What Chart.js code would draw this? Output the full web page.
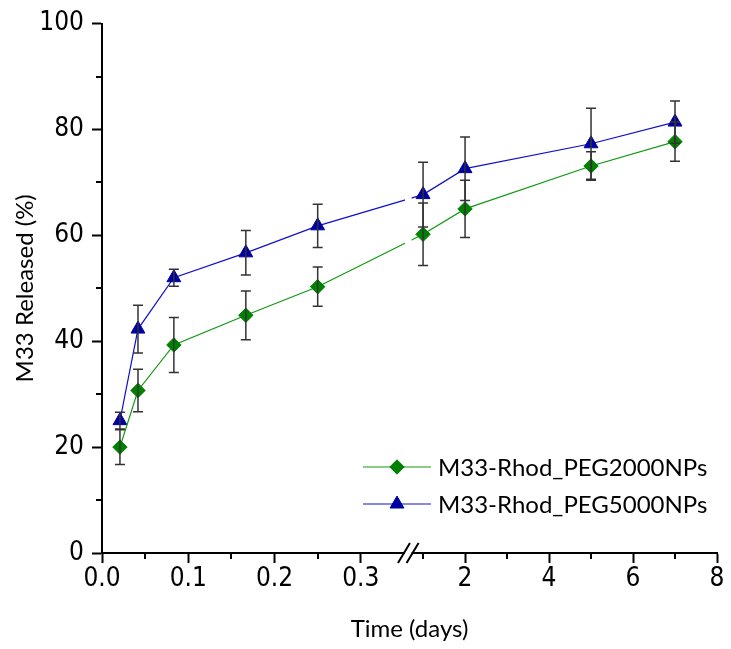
<!DOCTYPE html>
<html>
<head>
<meta charset="utf-8">
<title>M33 release</title>
<script src="https://cdn.jsdelivr.net/npm/chart.js@4.4.1/dist/chart.umd.min.js"></script>
<style>
  html, body { margin: 0; padding: 0; background: #fff; }
  #wrap { width: 731px; height: 649px; }
</style>
</head>
<body>
<div id="wrap"><canvas id="chart" width="731" height="649"></canvas></div>
<script>
// ---- data ----
const timeDays    = [0.0208, 0.0417, 0.0833, 0.1667, 0.25, 1, 2, 5, 7];
const peg2000     = [20.0, 30.7, 39.3, 44.9, 50.3, 60.2, 65.0, 73.1, 77.7];
const peg2000Err  = [3.3, 4.0, 5.2, 4.6, 3.7, 5.9, 5.4, 2.7, 3.7];
const peg5000     = [25.0, 42.3, 52.0, 56.7, 61.8, 67.7, 72.6, 77.3, 81.4];
const peg5000Err  = [1.6, 4.5, 1.6, 4.2, 4.1, 6.1, 6.0, 6.7, 4.0];
const seriesNames = ['M33-Rhod_PEG2000NPs', 'M33-Rhod_PEG5000NPs'];

const xMajorTicks = [0, 0.1, 0.2, 0.3, 2, 4, 6, 8];
const xMinorTicks = [0.05, 0.15, 0.25, 1, 3, 5, 7];
const yMinorTicks = [10, 30, 50, 70, 90];

// broken x axis: [0, 0.35] on the left part, [0.75, 8] on the right part
const BRK = { lo: 0.35, hi: 0.75, min: 0, max: 8, fracA: 0.491, fracB: 0.505 };

const TICK_FONT  = { family: "'Liberation Sans Narrow', 'Arial Narrow', 'DejaVu Sans Condensed', sans-serif", size: 26 };
const TITLE_FONT = { family: "Lato, 'Open Sans', sans-serif", size: 24 };
const LEGEND_FONT = "24px Lato, 'Open Sans', sans-serif";

function valueToDecimal(v) {
  if (v <= BRK.lo) return (v - BRK.min) / (BRK.lo - BRK.min) * BRK.fracA;
  if (v >= BRK.hi) return BRK.fracB + (v - BRK.hi) / (BRK.max - BRK.hi) * (1 - BRK.fracB);
  return BRK.fracA + (v - BRK.lo) / (BRK.hi - BRK.lo) * (BRK.fracB - BRK.fracA);
}
function decimalToValue(d) {
  if (d <= BRK.fracA) return BRK.min + d / BRK.fracA * (BRK.lo - BRK.min);
  if (d >= BRK.fracB) return BRK.hi + (d - BRK.fracB) / (1 - BRK.fracB) * (BRK.max - BRK.hi);
  return BRK.lo + (d - BRK.fracA) / (BRK.fracB - BRK.fracA) * (BRK.hi - BRK.lo);
}

class BrokenLinearScale extends Chart.LinearScale {
  static id = 'brokenLinear';
  buildTicks() {
    return xMajorTicks.map(v => ({ value: v }));
  }
  getPixelForValue(value) {
    if (value === null || value === undefined) return NaN;
    return this.getPixelForDecimal(valueToDecimal(value));
  }
  getValueForPixel(pixel) {
    return decimalToValue(this.getDecimalForPixel(pixel));
  }
}
Chart.register(BrokenLinearScale);

const toPoints = ys => ys.map((y, i) => ({ x: timeDays[i], y }));

// error bars
const errorBarPlugin = {
  id: 'errorBars',
  afterDatasetsDraw(chart) {
    const { ctx, scales: { x, y } } = chart;
    ctx.save();
    ctx.strokeStyle = '#333';
    ctx.lineWidth = 1.5;
    chart.data.datasets.forEach(ds => {
      ds.data.forEach((p, i) => {
        const px = x.getPixelForValue(p.x);
        const top = y.getPixelForValue(p.y + ds.errors[i]);
        const bot = y.getPixelForValue(p.y - ds.errors[i]);
        ctx.beginPath();
        ctx.moveTo(px, top); ctx.lineTo(px, bot);
        ctx.moveTo(px - 5, top); ctx.lineTo(px + 5, top);
        ctx.moveTo(px - 5, bot); ctx.lineTo(px + 5, bot);
        ctx.stroke();
      });
    });
    ctx.restore();
  }
};

// minor ticks + axis break marks + legend
const axisExtrasPlugin = {
  id: 'axisExtras',
  afterDraw(chart) {
    const { ctx, chartArea: ca, scales: { x, y } } = chart;
    ctx.save();
    ctx.strokeStyle = '#000';
    ctx.lineWidth = 2;
    ctx.beginPath();
    xMinorTicks.forEach(v => {
      const px = Math.round(x.getPixelForValue(v));
      ctx.moveTo(px, ca.bottom); ctx.lineTo(px, ca.bottom + 6);
    });
    yMinorTicks.forEach(v => {
      const py = Math.round(y.getPixelForValue(v));
      ctx.moveTo(ca.left, py); ctx.lineTo(ca.left - 6, py);
    });
    ctx.stroke();

    // gap in the plot and on the axis
    const a = x.getPixelForValue(BRK.lo);
    const b = x.getPixelForValue(BRK.hi);
    ctx.fillStyle = '#fff';
    ctx.fillRect(a + 1, ca.top, b - a - 2, ca.bottom - ca.top + 3);
    ctx.lineWidth = 2;
    ctx.beginPath();
    [a, b].forEach(cx => {
      ctx.moveTo(cx - 6, ca.bottom + 10);
      ctx.lineTo(cx + 6, ca.bottom - 10);
    });
    ctx.stroke();
    ctx.restore();
    drawLegend(chart);
  }
};

function drawLegend(chart) {
  const { ctx } = chart;
  const rows = [467, 504];
  ctx.save();
  chart.data.datasets.forEach((ds, i) => {
    const yy = rows[i];
    ctx.strokeStyle = ds.borderColor;
    ctx.lineWidth = ds.borderWidth;
    ctx.beginPath();
    ctx.moveTo(363, yy); ctx.lineTo(431, yy);
    ctx.stroke();
    ctx.fillStyle = ds.pointBackgroundColor;
    ctx.strokeStyle = ds.pointBorderColor;
    ctx.lineWidth = 1;
    Chart.helpers.drawPoint(ctx, { pointStyle: ds.pointStyle, radius: ds.pointRadius, rotation: 0, borderWidth: 1 }, 397, yy);
    ctx.fillStyle = '#000';
    ctx.font = LEGEND_FONT;
    ctx.textBaseline = 'middle';
    ctx.textAlign = 'left';
    ctx.fillText(seriesNames[i], 438, yy + 1);
  });
  ctx.restore();
}

new Chart(document.getElementById('chart'), {
  type: 'line',
  data: {
    datasets: [
      {
        label: seriesNames[0],
        data: toPoints(peg2000),
        errors: peg2000Err,
        borderColor: '#119911',
        borderWidth: 1.2,
        pointStyle: 'rectRot',
        pointRadius: 7.2,
        pointBackgroundColor: '#008000',
        pointBorderColor: '#008000',
        pointBorderWidth: 1,
        tension: 0
      },
      {
        label: seriesNames[1],
        data: toPoints(peg5000),
        errors: peg5000Err,
        borderColor: '#1111cc',
        borderWidth: 1.2,
        pointStyle: 'triangle',
        pointRadius: 8,
        pointBackgroundColor: '#0000a0',
        pointBorderColor: '#0000a0',
        pointBorderWidth: 1,
        tension: 0
      }
    ]
  },
  options: {
    responsive: false,
    animation: false,
    layout: { padding: { top: 19, right: 14, left: 0, bottom: 0 } },
    plugins: { legend: { display: false }, tooltip: { enabled: false } },
    scales: {
      x: {
        type: 'brokenLinear',
        min: 0,
        max: 8,
        afterFit: s => { s.height = 96; },
        border: { display: true, color: '#000', width: 2 },
        grid: { drawOnChartArea: false, drawTicks: true, tickLength: 10, tickWidth: 2, tickColor: '#000' },
        ticks: {
          autoSkip: false, maxRotation: 0, color: '#000', font: TICK_FONT, padding: 1,
          callback: v => (v < 1 ? v.toFixed(1) : String(v))
        },
        title: { display: true, text: 'Time (days)', color: '#000', font: TITLE_FONT, padding: { top: 0, bottom: 5 } }
      },
      y: {
        type: 'linear',
        min: 0,
        max: 100,
        afterFit: s => { s.width = 102; },
        border: { display: true, color: '#000', width: 2 },
        grid: { drawOnChartArea: false, drawTicks: true, tickLength: 10, tickWidth: 2, tickColor: '#000' },
        ticks: { stepSize: 20, color: '#000', font: TICK_FONT, padding: 8 },
        title: { display: true, text: 'M33 Released (%)', color: '#000', font: TITLE_FONT, padding: { top: 11, bottom: 0 } }
      }
    }
  },
  plugins: [errorBarPlugin, axisExtrasPlugin]
});
</script>
</body>
</html>
